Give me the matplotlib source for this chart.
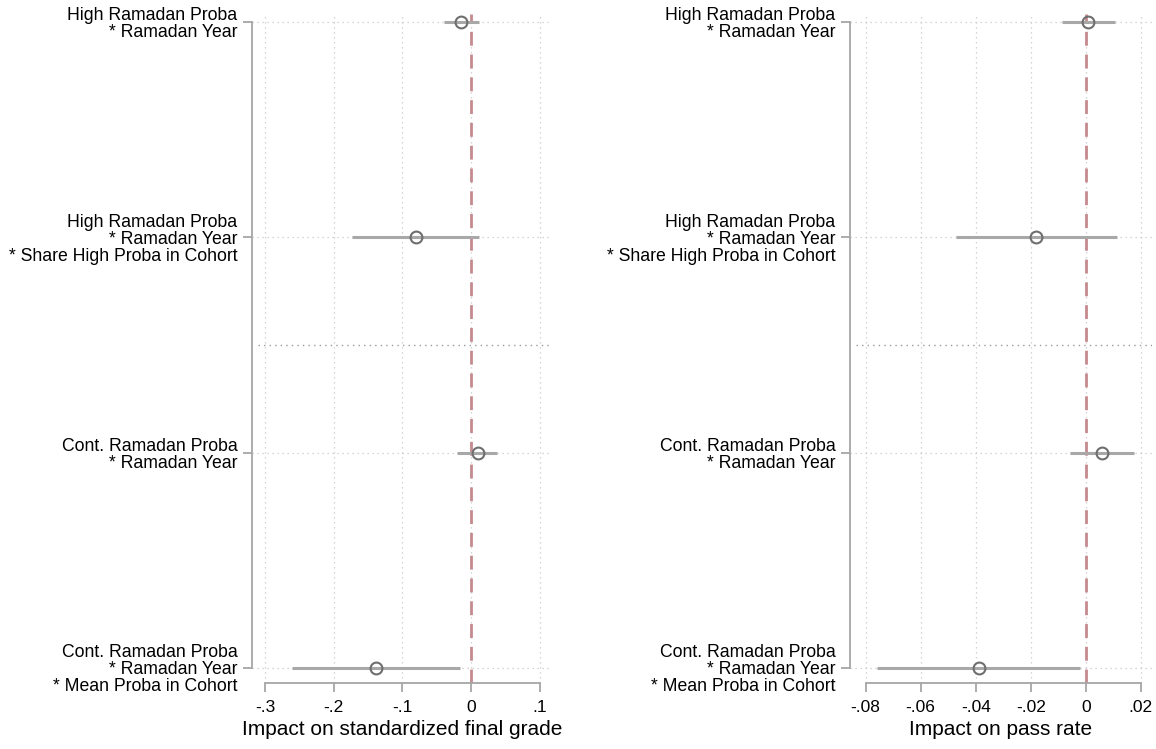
import numpy as np
import matplotlib
matplotlib.use("Agg")
import matplotlib.pyplot as plt

plt.rcParams['font.family'] = ['Liberation Sans', 'DejaVu Sans']

labels = ["High Ramadan Proba\n* Ramadan Year",
          "High Ramadan Proba\n* Ramadan Year\n* Share High Proba in Cohort",
          "Cont. Ramadan Proba\n* Ramadan Year",
          "Cont. Ramadan Proba\n* Ramadan Year\n* Mean Proba in Cohort"]

# standardized final grade
grade_coef = [-0.0145, -0.080, 0.0097, -0.139]
grade_lo = [-0.039, -0.174, -0.021, -0.261]
grade_hi = [0.011, 0.012, 0.038, -0.016]
grade_ticks = [-0.3, -0.2, -0.1, 0, 0.1]
grade_ticklabels = ["-.3", "-.2", "-.1", "0", ".1"]

# pass rate
pass_coef = [0.0007, -0.018, 0.006, -0.0388]
pass_lo = [-0.0087, -0.0473, -0.0057, -0.076]
pass_hi = [0.0108, 0.0113, 0.0176, -0.0021]
pass_ticks = [-0.08, -0.06, -0.04, -0.02, 0, 0.02]
pass_ticklabels = ["-.08", "-.06", "-.04", "-.02", "0", ".02"]

W, H = 1156, 749
fig = plt.figure(figsize=(W / 100, H / 100), dpi=100)

axcol = "#a6a6a6"
gridcol = "#c8c8c8"


def coefplot(ax, coef, lo, hi, ticks, ticklabels, xlim, xlabel):
    rows = np.arange(len(coef))
    for t in ticks:
        ax.axvline(t, color=gridcol, lw=0.9, ls=(0, (1, 3)), zorder=0)
    for r in rows:
        ax.axhline(r, color=gridcol, lw=0.9, ls=(0, (1, 3)), zorder=0)
    ax.plot([xlim[0] + 0.02 * (xlim[1] - xlim[0]), xlim[1]], [1.5, 1.5],
            color="#9a9a9a", lw=1.0, ls=(0, (1, 3)), zorder=0)
    ax.axvline(0, color="#c48a8e", lw=2.0, ls=(0, (5, 3.2)), zorder=1)
    ax.hlines(rows, lo, hi, color="#a8a8a8", lw=2.2, zorder=2)
    ax.plot(coef, rows, "o", ms=8.5, mfc="none", mec="#6e6e6e", mew=1.5, zorder=3)

    ax.set_xlim(xlim)
    ax.set_ylim(3.07, -0.037)
    ax.set_xticks(ticks)
    ax.set_xticklabels(ticklabels, fontsize=12.5)
    ax.set_yticks(rows)
    ax.set_yticklabels(labels, fontsize=12.7, multialignment="right", linespacing=1.0)
    ax.set_xlabel(xlabel, fontsize=15, labelpad=3)

    for s in ["top", "right"]:
        ax.spines[s].set_visible(False)
    ax.spines["left"].set_bounds(0, 3)
    ax.spines["bottom"].set_bounds(ticks[0], ticks[-1])
    ax.spines["left"].set_color(axcol)
    ax.spines["bottom"].set_color(axcol)
    ax.spines["left"].set_linewidth(1.3)
    ax.spines["bottom"].set_linewidth(1.3)
    ax.tick_params(axis="both", color=axcol, width=1.3, length=6.5)
    ax.tick_params(axis="y", pad=4)
    ax.tick_params(axis="x", pad=6)


ax1 = fig.add_axes([252 / W, 1 - 683 / H, 300 / W, 669 / H])
coefplot(ax1, grade_coef, grade_lo, grade_hi, grade_ticks, grade_ticklabels,
         (-0.3189, 0.1175), "Impact on standardized final grade")

ax2 = fig.add_axes([850 / W, 1 - 683 / H, 302 / W, 669 / H])
coefplot(ax2, pass_coef, pass_lo, pass_hi, pass_ticks, pass_ticklabels,
         (-0.0857, 0.0241), "Impact on pass rate")

fig.savefig("out.png", dpi=100)
